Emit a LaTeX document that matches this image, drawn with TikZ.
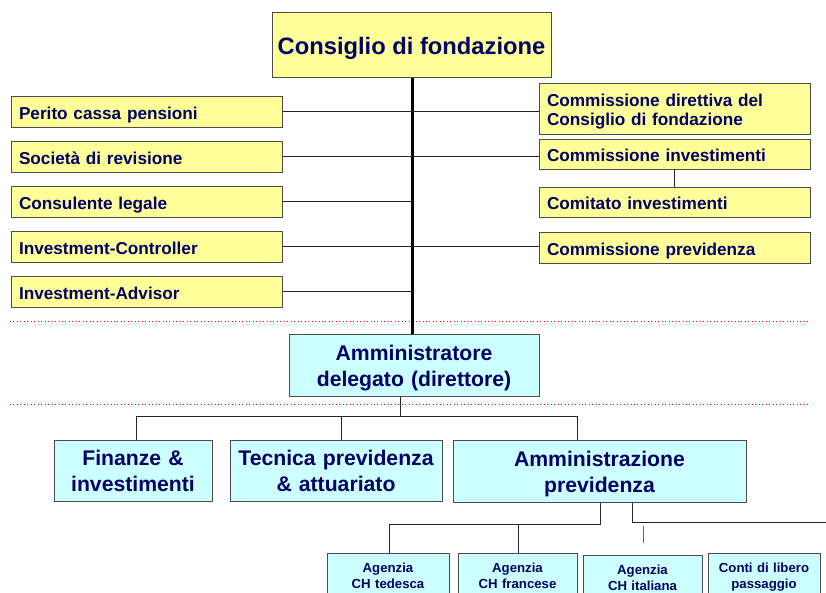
\documentclass[tikz,border=0pt]{standalone}
\usepackage{fontspec}
\setmainfont{Liberation Sans}
\definecolor{navytext}{RGB}{0,0,102}
\definecolor{boxyellow}{RGB}{255,255,153}
\definecolor{boxcyan}{RGB}{204,255,255}
\begin{document}
\begin{tikzpicture}[x=0.75pt,y=-0.75pt,
      every node/.append style={text=navytext,inner sep=0pt},
      link/.style={draw=black!85,line width=0.75pt},
      level1/.style={fill=boxcyan,draw=black!70,line width=0.75pt,align=center,
        font=\fontsize{15.9}{19.5}\selectfont\bfseries,text depth=22.84pt,
        execute at begin node={\rule{0pt}{1.01em}}}]
    \tikzstyle{council} = [fill=boxyellow,draw=black!70,line width=0.75pt,
        minimum width=209.25pt,minimum height=48.75pt,font=\fontsize{17.8}{21}\selectfont\bfseries,
        text depth=0.21em,execute at begin node={\rule{0pt}{0.98em}}]
    \tikzstyle{side} = [fill=boxyellow,draw=black!70,line width=0.75pt,text width=191.25pt,
        inner xsep=6pt,align=left,minimum height=23.25pt,font=\fontsize{12.9}{14.25}\selectfont\bfseries,
        text depth=0.21em,execute at begin node={\rule{0pt}{1.08em}}]
    \tikzstyle{agency} = [fill=boxcyan,draw=black!70,line width=0.75pt,anchor=north,align=center,
        minimum height=36pt,font=\fontsize{9.9}{12}\selectfont\bfseries,text depth=14.1pt]
    \useasboundingbox (0,0) rectangle (826,593);
    % separators
    \draw[red,dotted,line width=0.6pt] (10,321) -- (810,321);
    \draw[red,dotted,line width=0.6pt] (10,404) -- (810,404);
    % board
    \node (consiglio) [council] at (411.5,44.5) {Consiglio di fondazione};
    \node (perito) [side] at (146.5,111.5) {Perito cassa pensioni};
    \node (revisione) [side] at (146.5,156.5) {Società di revisione};
    \node (legale) [side] at (146.5,201.5) {Consulente legale};
    \node (controller) [side] at (146.5,246.5) {Investment-Controller};
    \node (advisor) [side] at (146.5,291.5) {Investment-Advisor};
    \node (direttiva) [side,minimum height=38.25pt,text depth=16.95pt] at (674.5,108.5) {Commissione direttiva del\\Consiglio di fondazione};
    \node (cominv) [side,minimum height=22.5pt] at (674.5,154) {Commissione investimenti};
    \node (comitato) [side,minimum height=22.5pt] at (674.5,202) {Comitato investimenti};
    \node (comprev) [side] at (674.5,247.5) {Commissione previdenza};
    % direction
    \node (direttore) [level1,text width=187.5pt,minimum height=46.5pt] at (414,365) {Amministratore\\delegato (direttore)};
    \node (finanze) [level1,text width=118.5pt,minimum height=45.75pt] at (133,470.5) {Finanze \&\\investimenti};
    \node (tecnica) [level1,text width=159pt,minimum height=45.75pt] at (336,470.5) {Tecnica previdenza\\\& attuariato};
    \node (ammprev) [level1,text width=219.75pt,minimum height=46.5pt] at (599.5,471) {Amministrazione\\previdenza};
    % agencies
    \node (tedesca) [agency,text width=91.5pt] at (388,553) {Agenzia\\CH tedesca};
    \node (francese) [agency,text width=89.25pt] at (517.5,553) {Agenzia\\CH francese};
    \node (italiana) [agency,text width=89.25pt] at (642.5,554.5) {Agenzia\\CH italiana};
    \node (conti) [agency,text width=84pt] at (764,553) {Conti di libero\\passaggio};
    % connectors
    \coordinate (spine) at (412,0);
    \draw[line width=2.25pt] (consiglio.south -| spine) -- (direttore.north -| spine);
    \draw[link] (perito.east) -- (perito.east -| direttiva.west);
    \draw[link] (revisione.east) -- (revisione.east -| cominv.west);
    \draw[link] (legale.east) -- (legale.east -| spine);
    \draw[link] (controller.east) -- (controller.east -| comprev.west);
    \draw[link] (advisor.east) -- (advisor.east -| spine);
    \draw[link] (cominv.south) -- (comitato.north);
    \coordinate (bus) at (400,416);
    \coordinate (busL) at (136,416);
    \coordinate (busM) at (341,416);
    \coordinate (busR) at (577,416);
    \draw[link] (direttore.south -| bus) -- (bus);
    \draw[link] (busL) -- (busR);
    \draw[link] (busL) -- (busL |- finanze.north);
    \draw[link] (busM) -- (busM |- tecnica.north);
    \draw[link] (busR) -- (busR |- ammprev.north);
    \coordinate (fork) at (600,524);
    \coordinate (forkL) at (389,524);
    \coordinate (forkM) at (518,524);
    \draw[link] (ammprev.south -| fork) -- (fork) -- (forkL) -- (forkL |- tedesca.north);
    \draw[link] (forkM) -- (forkM |- francese.north);
    \coordinate (branch) at (632,522);
    \coordinate (branchend) at (826,522);
    \draw[link] (ammprev.south -| branch) -- (branch) -- (branchend);
    \coordinate (stubtop) at (643,526);
    \coordinate (stubbot) at (643,543);
    \draw[link,draw=black!60] (stubtop) -- (stubbot);
\end{tikzpicture}
\end{document}
